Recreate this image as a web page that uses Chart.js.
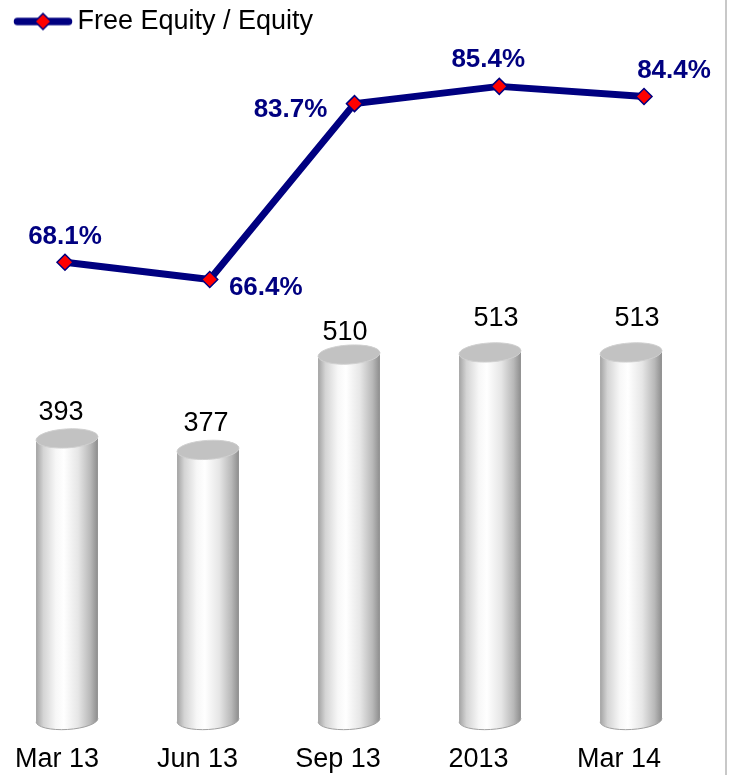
<!DOCTYPE html>
<html>
<head>
<meta charset="utf-8">
<script src="https://cdn.jsdelivr.net/npm/chart.js@4.4.1/dist/chart.umd.min.js"></script>
<style>
  html, body { margin: 0; padding: 0; background: #fff; }
  #wrap { position: relative; width: 730px; height: 775px; }
  #frame { position: absolute; left: 725px; top: 0; width: 2px; height: 775px; background: #c8c8c8; }
</style>
</head>
<body>
<div id="wrap">
  <canvas id="equityChart" width="730" height="775"></canvas>
  <div id="frame"></div>
</div>
<script>
// Data
const categories = ["Mar 13", "Jun 13", "Sep 13", "2013", "Mar 14"];
const freeEquity = [393, 377, 510, 513, 513];
const freeEquityRatio = [68.1, 66.4, 83.7, 85.4, 84.4];
const seriesName = "Free Equity / Equity";

// Label nudges (px) for value and percent labels
const barLabelShift = [[-6, -26], [-2, -26], [-4, -22], [6, -34], [6, -34]];
const ratioLabelShift = [[0, -25], [56, 8], [-64, 6], [-11, -27], [30, -26]];

const NAVY = "#000080";
const FONT = "'Liberation Sans', Arial, sans-serif";

// Small icon for the legend: thick line with a red diamond
function legendIcon() {
    let c = document.createElement("canvas");
    c.width = 80;
    c.height = 20;
    let g = c.getContext("2d");
    g.strokeStyle = NAVY;
    g.lineWidth = 7.5;
    g.lineCap = "round";
    g.beginPath();
    g.moveTo(21.5, 10);
    g.lineTo(72.5, 10);
    g.stroke();
    g.beginPath();
    g.moveTo(47, 2);
    g.lineTo(55, 10);
    g.lineTo(47, 18);
    g.lineTo(39, 10);
    g.closePath();
    g.fillStyle = "#ff0000";
    g.fill();
    g.lineWidth = 1.5;
    g.stroke();
    return c;
}

// Draws each bar as a shaded cylinder
const cylinders = {
    id: "cylinders",
    beforeDatasetsDraw(chart) {
        const ctx = chart.ctx;
        const meta = chart.getDatasetMeta(0);
        const rot = -0.06;
        meta.data.forEach(bar => {
            const x = bar.x, top = bar.y, base = bar.base;
            const rx = bar.width / 2, ry = 9.5;

            const grad = ctx.createLinearGradient(x - rx, 0, x + rx, 0);
            grad.addColorStop(0, "#a2a2a2");
            grad.addColorStop(0.12, "#d4d4d4");
            grad.addColorStop(0.32, "#f7f7f7");
            grad.addColorStop(0.45, "#ffffff");
            grad.addColorStop(0.68, "#e6e6e6");
            grad.addColorStop(0.88, "#b8b8b8");
            grad.addColorStop(1, "#8c8c8c");

            ctx.save();
            ctx.beginPath();
            ctx.ellipse(x, base, rx, ry, rot, Math.PI, 0, true);
            ctx.ellipse(x, top, rx, ry, rot, 0, Math.PI, true);
            ctx.closePath();
            ctx.fillStyle = grad;
            ctx.fill();

            // bottom rim
            ctx.beginPath();
            ctx.ellipse(x, base, rx, ry, rot, Math.PI, 0, true);
            ctx.strokeStyle = "#a0a0a0";
            ctx.lineWidth = 1;
            ctx.stroke();

            // lid
            ctx.beginPath();
            ctx.ellipse(x, top, rx, ry, rot, 0, Math.PI * 2);
            ctx.fillStyle = "#c2c2c2";
            ctx.fill();
            ctx.strokeStyle = "#d0d0d0";
            ctx.lineWidth = 1;
            ctx.stroke();
            ctx.restore();
        });
    }
};

// Value labels above bars and percent labels beside points
const valueLabels = {
    id: "valueLabels",
    afterDatasetsDraw(chart) {
        const ctx = chart.ctx;
        ctx.save();
        ctx.textAlign = "center";
        ctx.textBaseline = "middle";

        ctx.font = "27px " + FONT;
        ctx.fillStyle = "#000";
        chart.getDatasetMeta(0).data.forEach((bar, i) => {
            const s = barLabelShift[i];
            ctx.fillText(String(freeEquity[i]), bar.x + s[0], bar.y + s[1]);
        });

        ctx.font = "bold 26px " + FONT;
        ctx.fillStyle = NAVY;
        chart.getDatasetMeta(1).data.forEach((pt, i) => {
            const s = ratioLabelShift[i];
            ctx.fillText(freeEquityRatio[i].toFixed(1) + "%", pt.x + s[0], pt.y + s[1]);
        });
        ctx.restore();
    }
};

const icon = legendIcon();

new Chart(document.getElementById("equityChart"), {
    data: {
        datasets: [{
            type: "bar",
            label: "Free Equity",
            data: freeEquity.map((v, i) => ({ x: i, y: v })),
            xAxisID: "xb",
            yAxisID: "y",
            backgroundColor: "rgba(0,0,0,0)",
            barThickness: 62,
            grouped: false,
            order: 2
        },
        {
            type: "line",
            label: seriesName,
            data: freeEquityRatio.map((v, i) => ({ x: i, y: v })),
            xAxisID: "xp",
            yAxisID: "y2",
            borderColor: NAVY,
            borderWidth: 7,
            borderJoinStyle: "round",
            borderCapStyle: "round",
            tension: 0,
            pointStyle: "rectRot",
            pointRadius: 8,
            pointBackgroundColor: "#ff0000",
            pointBorderColor: NAVY,
            pointBorderWidth: 1.5,
            order: 1
        }]
    },
    options: {
        responsive: false,
        animation: false,
        layout: { padding: 0, autoPadding: false },
        plugins: {
            tooltip: { enabled: false },
            legend: {
                position: "top",
                align: "start",
                labels: {
                    usePointStyle: true,
                    pointStyleWidth: 56,
                    padding: 8,
                    color: "#000",
                    font: { family: FONT, size: 27 },
                    generateLabels: () => [{
                        text: seriesName,
                        pointStyle: icon,
                        fillStyle: NAVY,
                        strokeStyle: NAVY,
                        lineWidth: 0,
                        datasetIndex: 1,
                        fontColor: "#000"
                    }]
                }
            }
        },
        scales: {
            xl: {
                type: "linear",
                position: "bottom",
                min: -0.4057,
                max: 4.790,
                grid: { display: false, drawTicks: false },
                border: { display: false },
                afterBuildTicks: axis => {
                    axis.ticks = categories.map((c, i) => ({ value: i }));
                },
                ticks: {
                    padding: 1,
                    autoSkip: false,
                    maxRotation: 0,
                    color: "#000",
                    font: { family: FONT, size: 27, lineHeight: 1.1 },
                    callback: v => categories[v]
                }
            },
            xb: { type: "linear", display: false, offset: false, grid: { offset: false }, min: -0.4751, max: 4.702 },
            xp: { type: "linear", display: false, offset: false, min: -0.449, max: 4.594 },
            y: { type: "linear", display: false, min: -32.5, max: 942.0 },
            y2: { type: "linear", display: false, min: 20.77, max: 89.47 }
        }
    },
    plugins: [cylinders, valueLabels]
});
</script>
</body>
</html>
